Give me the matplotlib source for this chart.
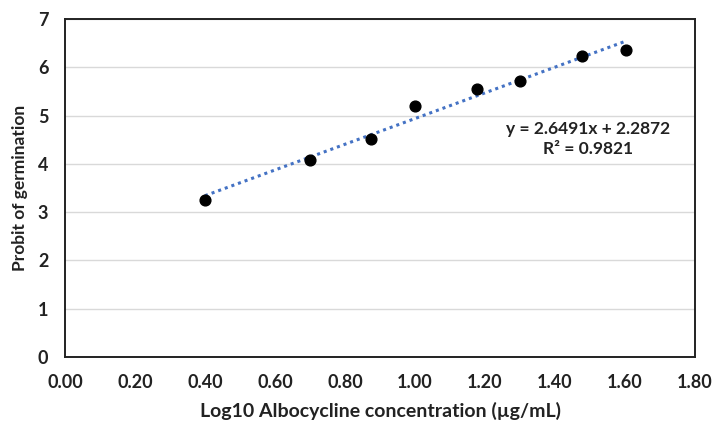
import numpy as np
import matplotlib
matplotlib.use("Agg")
import matplotlib.pyplot as plt

log_conc = [0.40, 0.70, 0.875, 1.00, 1.176, 1.301, 1.477, 1.602]
probit = [3.25, 4.09, 4.52, 5.20, 5.56, 5.71, 6.23, 6.36]
x_ticks = [0.0, 0.2, 0.4, 0.6, 0.8, 1.0, 1.2, 1.4, 1.6, 1.8]
y_ticks = [0, 1, 2, 3, 4, 5, 6, 7]
eq_text = "y = 2.6491x + 2.2872"
r2_text = "R² = 0.9821"

plt.rcParams['font.family'] = ['Lato', 'DejaVu Sans']

fig = plt.figure(figsize=(7.13, 4.24), dpi=100)
ax = fig.add_axes([65/713, 1-357/424, (695-65)/713, (357-19)/424])

slope, intercept = np.polyfit(log_conc, probit, 1)
xs = np.array([min(log_conc), max(log_conc)])
ax.plot(xs, slope*xs + intercept, linestyle=(0, (1, 1.3)), color='#4472C4', lw=2.2, zorder=2)
ax.scatter(log_conc, probit, s=60, color='black', zorder=3)

ax.set_xlim(0, 1.8)
ax.set_ylim(0, 7)
ax.set_xticks(x_ticks)
ax.set_xticklabels([f"{v:.2f}" for v in x_ticks])
ax.set_yticks(y_ticks)
ax.grid(axis='y', color='#d9d9d9', lw=1)
ax.set_axisbelow(True)
for s in ax.spines.values():
    s.set_linewidth(1.4)
    s.set_color('#222222')
ax.tick_params(length=0, labelsize=13, pad=12)
for lab in ax.get_xticklabels() + ax.get_yticklabels():
    lab.set_fontweight('bold')
    lab.set_color('#222222')

ax.set_xlabel("Log10 Albocycline concentration (µg/mL)", fontsize=14, fontweight='bold', labelpad=8, color='#222222')
ax.set_ylabel("Probit of germination", fontsize=12.5, fontweight='bold', labelpad=7, color='#222222')

ax.text(1.494, 4.52, eq_text + "\n" + r2_text, ha='center', va='center', fontsize=12.5,
        fontweight='bold', color='#222222', linespacing=1.3)

fig.savefig("out.png", dpi=100)
